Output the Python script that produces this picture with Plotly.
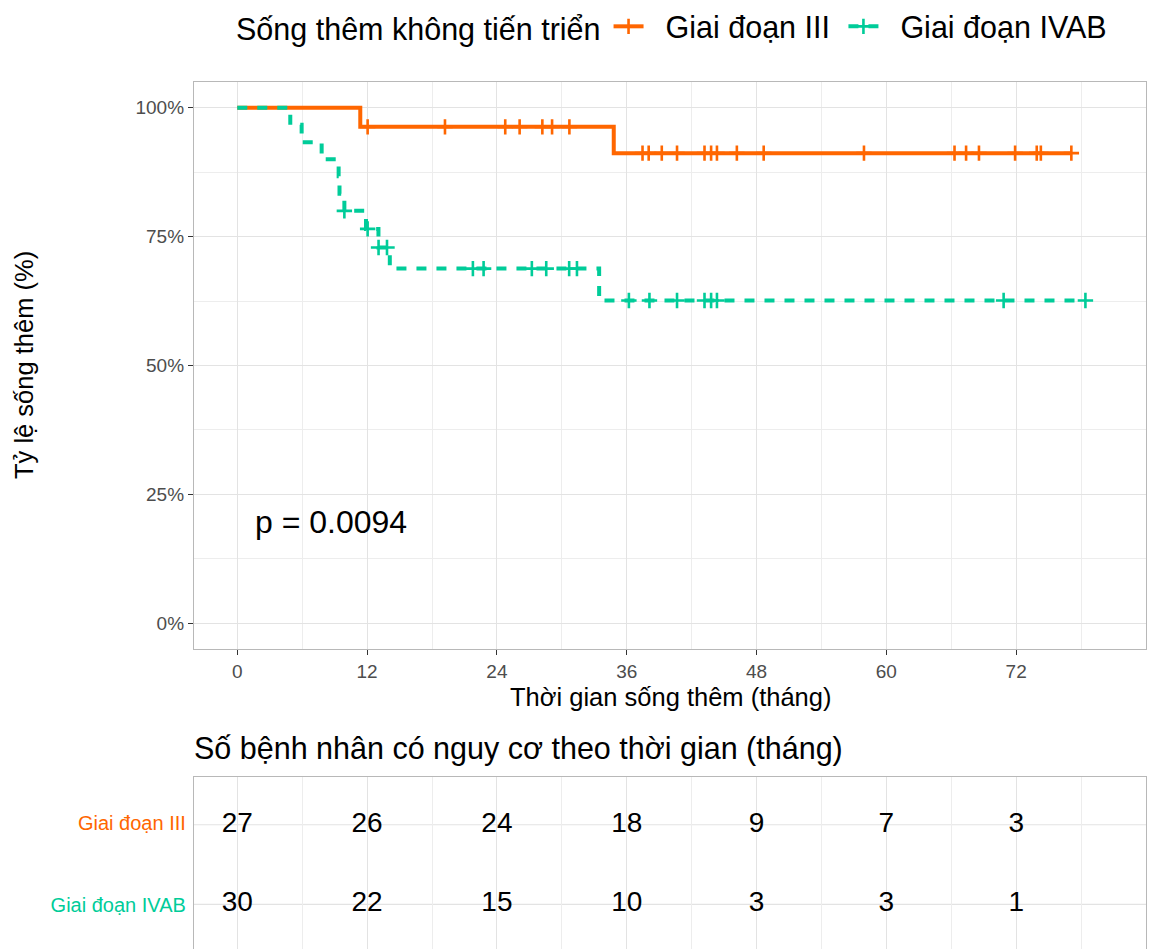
import plotly.graph_objects as go

# ---------------- data ----------------
groups = ["Giai đoạn III", "Giai đoạn IVAB"]
colors = ["#FF6600", "#00CC99"]
dashes = ["solid", "10px,10px"]

# Giai đoạn III: event times and survival after each event
iii_event_times = [11.37, 34.8]
iii_event_surv = [0.963, 0.912]
iii_censor_times = [12.05, 19.2, 24.77, 26.1, 28.2, 29.1, 30.7,
                    37.46, 38.03, 39.24, 40.65, 43.19, 43.8, 44.34, 46.18,
                    48.66, 57.93, 66.3, 67.37, 68.56, 71.9, 73.9, 74.28, 77.1]

# Giai đoạn IVAB
ivab_event_times = [4.9, 5.95, 7.8, 9.37, 9.45, 9.9, 11.9, 13.05, 14.1, 33.45]
ivab_event_surv = [0.967, 0.933, 0.900, 0.867, 0.833, 0.800, 0.765, 0.729, 0.688, 0.626]
ivab_censor_times = [9.9, 12.05, 13.06, 13.84, 21.78, 22.77, 27.23, 28.56, 30.68, 31.4,
                     36.2, 38.1, 40.65, 43.19, 43.8, 44.34, 70.84, 78.4]

# number at risk table
risk_times = [0, 12, 24, 36, 48, 60, 72]
risk_iii = [27, 26, 24, 18, 9, 7, 3]
risk_ivab = [30, 22, 15, 10, 3, 3, 1]

x_ticks = [0, 12, 24, 36, 48, 60, 72]
y_ticks = [0, 0.25, 0.5, 0.75, 1.0]
y_ticklabels = ["0%", "25%", "50%", "75%", "100%"]

p_text = "p = 0.0094"
legend_title = "Sống thêm không tiến triển"
x_title = "Thời gian sống thêm (tháng)"
y_title = "Tỷ lệ sống thêm (%)"
risk_title = "Số bệnh nhân có nguy cơ theo thời gian (tháng)"

# ---------------- figure ----------------
W, H = 1150, 949
FONT = "Liberation Sans, Arial, Helvetica, sans-serif"
GRID = "#e3e3e3"
MINOR = "#ededed"
BORDER = "#b8b8b8"
NB = "\u00a0"


def px(xp):
    return xp / W


def py(yp):
    return 1 - yp / H


def surv_at(t, ev_t, ev_s):
    s = 1.0
    for et, es in zip(ev_t, ev_s):
        if et <= t:
            s = es
    return s


fig = go.Figure()

series = [
    (iii_event_times, iii_event_surv, iii_censor_times),
    (ivab_event_times, ivab_event_surv, ivab_censor_times),
]

for (ev_t, ev_s, cen_t), name, col, dash in zip(series, groups, colors, dashes):
    end_t = max(cen_t + ev_t)
    xs = [0] + ev_t + [end_t]
    ys = [1.0] + ev_s + [ev_s[-1]]
    fig.add_trace(go.Scatter(
        x=xs, y=ys, mode="lines", line=dict(color=col, width=4, dash=dash, shape="hv"),
        showlegend=False, hoverinfo="skip", xaxis="x", yaxis="y"))
    fig.add_trace(go.Scatter(
        x=cen_t, y=[surv_at(t, ev_t, ev_s) for t in cen_t], mode="markers",
        marker=dict(symbol="cross-thin", size=11, line=dict(color=col, width=2.6)),
        showlegend=False, xaxis="x", yaxis="y"))
    # legend entry
    fig.add_trace(go.Scatter(
        x=[None], y=[None], mode="lines+markers", name=NB * 2 + name + NB,
        line=dict(color=col, width=4, dash=dash),
        marker=dict(symbol="cross-thin", size=11, line=dict(color=col, width=2.6)),
        xaxis="x", yaxis="y"))

# risk table numbers
for vals, row in [(risk_iii, 2), (risk_ivab, 1)]:
    fig.add_trace(go.Scatter(
        x=risk_times, y=[row] * len(risk_times), mode="text",
        text=[str(v) for v in vals], textposition="middle center",
        textfont=dict(size=28, color="#000000", family=FONT),
        showlegend=False, hoverinfo="skip", xaxis="x2", yaxis="y2"))

xdom = [px(194), px(1146)]

fig.update_layout(
    width=W, height=H,
    margin=dict(l=0, r=0, t=0, b=0, autoexpand=False),
    paper_bgcolor="white", plot_bgcolor="white",
    font=dict(family=FONT, color="#000000"),
    xaxis=dict(
        domain=xdom, anchor="y", range=[-4, 84], tickvals=x_ticks,
        ticks="outside", ticklen=5, tickwidth=1.3, tickcolor="#333333",
        tickfont=dict(size=19, color="#4d4d4d"),
        showline=True, mirror=True, linecolor=BORDER, linewidth=1.3,
        showgrid=True, gridcolor=GRID, gridwidth=1.2, zeroline=False,
        minor=dict(tick0=0, dtick=6, showgrid=True, gridcolor=MINOR, gridwidth=1, ticks=""),
    ),
    yaxis=dict(
        domain=[py(649), py(82)], anchor="x", range=[-0.05, 1.05],
        tickvals=y_ticks, ticktext=y_ticklabels,
        ticks="outside", ticklen=5, tickwidth=1.3, tickcolor="#333333",
        tickfont=dict(size=19, color="#4d4d4d"),
        showline=True, mirror=True, linecolor=BORDER, linewidth=1.3,
        showgrid=True, gridcolor=GRID, gridwidth=1.2, zeroline=False,
        minor=dict(tick0=0, dtick=0.125, showgrid=True, gridcolor=MINOR, gridwidth=1, ticks=""),
    ),
    xaxis2=dict(
        domain=xdom, anchor="y2", range=[-4, 84], tickvals=x_ticks, side="top",
        showticklabels=False, ticks="",
        showline=True, mirror=False, linecolor=BORDER, linewidth=1.3,
        showgrid=True, gridcolor=GRID, gridwidth=1.2, zeroline=False,
        minor=dict(tick0=0, dtick=6, showgrid=True, gridcolor=MINOR, gridwidth=1, ticks=""),
    ),
    yaxis2=dict(
        domain=[0, py(777)], anchor="x2", range=[0.438, 2.6],
        tickvals=[2.02, 0.99],
        ticktext=[f"<span style='color:{colors[0]}'>{groups[0]}</span>",
                  f"<span style='color:{colors[1]}'>{groups[1]}</span>"],
        ticks="outside", ticklen=3, tickcolor="rgba(0,0,0,0)",
        tickfont=dict(size=20),
        showline=True, mirror=True, linecolor=BORDER, linewidth=1.3,
        showgrid=False, zeroline=False,
    ),
    legend=dict(
        orientation="h", x=px(234), xanchor="left", y=1.0, yanchor="top",
        yref="container",
        title=dict(text=legend_title, font=dict(size=30.5, color="#000000")),
        font=dict(size=30.5, color="#000000"), bgcolor="rgba(0,0,0,0)",
        itemwidth=30, tracegroupgap=0,
    ),
    annotations=[
        dict(text=p_text, xref="paper", yref="paper", x=px(253), y=py(522),
             xanchor="left", yanchor="middle", showarrow=False,
             font=dict(size=32, color="#000000")),
        dict(text=x_title, xref="paper", yref="paper", x=px(670), y=py(697),
             xanchor="center", yanchor="middle", showarrow=False,
             font=dict(size=25.5, color="#000000")),
        dict(text=y_title, xref="paper", yref="paper", x=px(24), y=py(365),
             xanchor="center", yanchor="middle", showarrow=False, textangle=-90,
             font=dict(size=25.5, color="#000000")),
        dict(text=risk_title, xref="paper", yref="paper", x=px(192), y=py(748),
             xanchor="left", yanchor="middle", showarrow=False,
             font=dict(size=30.5, color="#000000")),
    ],
    shapes=[
        dict(type="line", xref="x2", yref="y2", x0=-4, x1=84, y0=row, y1=row,
             line=dict(color=GRID, width=1.2), layer="below")
        for row in [1, 2]
    ],
)

fig.write_html("out.html")
